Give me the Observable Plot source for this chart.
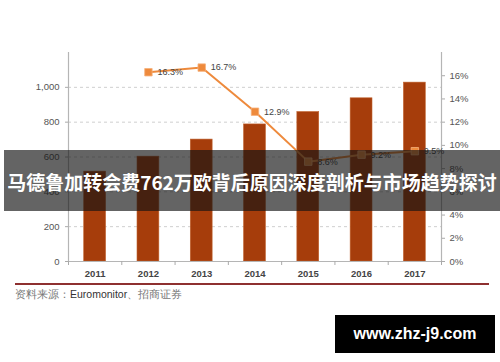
<!DOCTYPE html>
<html><head><meta charset="utf-8">
<script src="https://cdn.jsdelivr.net/npm/d3@7"></script>
<script src="https://cdn.jsdelivr.net/npm/@observablehq/plot@0.6"></script>
<style>
body{margin:0;background:#fff;}
#wrap{position:relative;width:500px;height:362px;overflow:hidden;background:#fff;font-family:"Liberation Sans",Arial,sans-serif;}
#chart{position:absolute;left:0;top:0;}
#sep{position:absolute;left:15px;top:283px;width:474px;height:2px;background:#8e3030;}
#src{position:absolute;left:15px;top:288px;font-size:10.5px;color:#777;white-space:nowrap;}
#src b{font-weight:normal;color:#333;}
#banner{position:absolute;left:4px;top:150px;width:496px;height:61px;background:rgba(20,20,20,0.66);color:#fff;font-family:"Noto Sans CJK SC",sans-serif;font-weight:bold;font-size:19px;line-height:64px;text-align:center;white-space:nowrap;}
#wm{position:absolute;left:335px;top:315px;width:160px;height:38px;background:#000;color:#fff;font-weight:bold;font-size:16px;line-height:38px;text-align:center;}
</style></head>
<body>
<div id="wrap">
<div id="chart"></div>
<div id="sep"></div>
<div id="src">资料来源：<b>Euromonitor</b>、招商证券</div>
<div id="banner">马德鲁加转会费762万欧背后原因深度剖析与市场趋势探讨</div>
<div id="wm">www.zhz-j9.com</div>
</div>
<script>
const years = ["2011","2012","2013","2014","2015","2016","2017"];
const sales = [516, 602, 700, 787, 858, 937, 1027];
const growthYears = ["2012","2013","2014","2015","2016","2017"];
const growth = [16.3, 16.7, 12.9, 8.6, 9.2, 9.5];
const leftTicks = [0, 200, 400, 600, 800, 1000];
const rightTicks = [0, 2, 4, 6, 8, 10, 12, 14, 16];

const LMAX = 1200, RMAX = 18;
const toL = p => p * LMAX / RMAX;

const bars = years.map((y, i) => ({year: y, i, v: sales[i]}));
const line = growthYears.map((y, k) => ({year: y, i: years.indexOf(y), g: growth[k]}));

const barColor = "#a63d0b";
const lineColor = "#ee8a3c";

const chart = Plot.plot({
  width: 500, height: 290,
  marginLeft: 68, marginRight: 59, marginTop: 52, marginBottom: 29,
  style: {fontFamily: "Liberation Sans, Arial, sans-serif", background: "transparent"},
  x: {type: "linear", domain: [0, years.length], axis: null},
  y: {domain: [0, LMAX], axis: null},
  marks: [
    Plot.ruleY(leftTicks.filter(d => d > 0), {stroke: "#cfcfcf", strokeDasharray: "3,3"}),
    Plot.rectY(bars, {x1: d => d.i + 0.295, x2: d => d.i + 0.705, y: "v", fill: barColor, stroke: "#c0622e", strokeWidth: 0.6}),
    Plot.ruleX([0, years.length], {y1: 0, y2: LMAX, stroke: "#b5b5b5", strokeWidth: 1.2}),
    Plot.ruleY([0], {stroke: "#b5b5b5", strokeWidth: 1.2}),
    Plot.axisY(leftTicks, {anchor: "left", label: null, tickSize: 3, tickPadding: 6, tickFormat: d3.format(","), fontSize: 9.5, color: "#555", stroke: "#aaa"}),
    Plot.axisY(rightTicks.map(toL), {anchor: "right", label: null, tickSize: 3, tickPadding: 5, tickFormat: d => Math.round(d * RMAX / LMAX) + "%", fontSize: 9.5, color: "#555", stroke: "#aaa"}),
    Plot.axisX(d3.range(0, years.length + 1), {anchor: "bottom", label: null, tickSize: 4, tickFormat: () => "", stroke: "#aaa"}),
    Plot.axisX(years.map((y, i) => i + 0.5), {anchor: "bottom", label: null, tickSize: 0, tickPadding: 9, tickFormat: (d) => years[Math.floor(d)], fontSize: 9.5, fontWeight: "bold", color: "#444"}),
    Plot.line(line, {x: d => d.i + 0.5, y: d => toL(d.g), stroke: lineColor, strokeWidth: 2}),
    Plot.dot(line, {x: d => d.i + 0.5, y: d => toL(d.g), symbol: "square", r: 4.2, fill: lineColor, stroke: "#f6b07a", strokeWidth: 0.8}),
    Plot.text(line, {x: d => d.i + 0.5, y: d => toL(d.g), text: d => d.g.toFixed(1) + "%", dx: 9, textAnchor: "start", fontSize: 9, fill: "#444"})
  ]
});
document.getElementById("chart").appendChild(chart);
</script>
</body></html>
